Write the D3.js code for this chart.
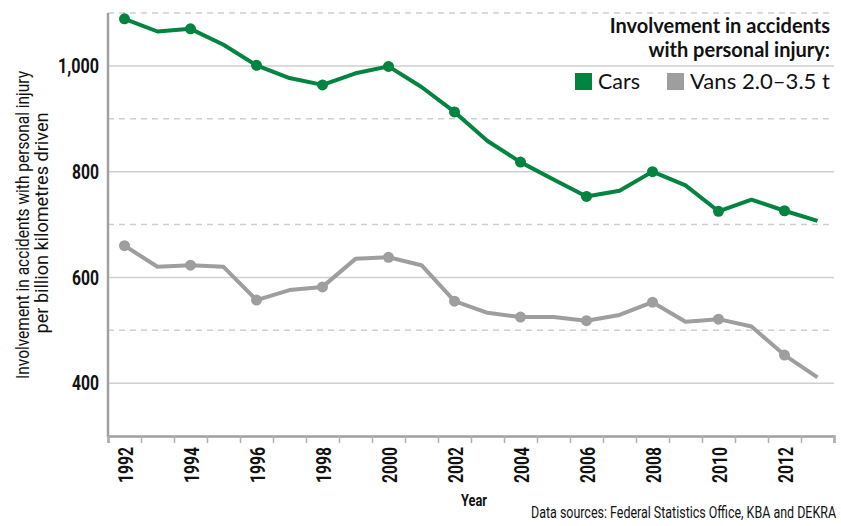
<!DOCTYPE html>
<html>
<head>
<meta charset="utf-8">
<script src="https://cdn.jsdelivr.net/npm/d3@7"></script>
<style>
  body { margin: 0; background: #fff; }
  .narrow { font-family: Roboto, "DejaVu Sans", sans-serif; }
  .grid line { stroke: #cfcfcf; stroke-width: 1.5; }
  .grid .dash { stroke-dasharray: 6 5; }
</style>
</head>
<body>
<div id="chart"></div>
<script>
var width = 841, height = 526;

// données
var years = d3.range(1992, 2014);
var cars = [1089, 1065, 1070, 1040, 1001, 977, 964, 986, 999, 960, 913, 858,
            818, 785, 753, 764, 800, 774, 725, 747, 726, 707];
var vans = [660, 620, 623, 620, 557, 576, 582, 635, 638, 623, 555, 533,
            525, 525, 518, 529, 553, 516, 521, 507, 453, 411];
var yTicks = [400, 600, 800, 1000];
var yDashed = [500, 700, 900, 1100];
var xLabels = [1992, 1994, 1996, 1998, 2000, 2002, 2004, 2006, 2008, 2010, 2012];

var green = "#00843f", grey = "#9e9e9e";

var svg = d3.select("#chart").append("svg")
    .attr("width", width)
    .attr("height", height);

var x = d3.scaleLinear().domain([1991.5, 2013.5]).range([108, 834]);
var y = d3.scaleLinear().domain([300, 1100]).range([436, 13]);

// texte étroit : on compresse à la largeur voulue
function squeeze(sel, len) {
  sel.attr("lengthAdjust", "spacingAndGlyphs").attr("textLength", len);
}

// grille
var grid = svg.append("g").attr("class", "grid");
grid.selectAll(".solid").data(yTicks).enter().append("line")
    .attr("class", "solid")
    .attr("x1", 108).attr("x2", 834)
    .attr("y1", function(d) { return y(d); })
    .attr("y2", function(d) { return y(d); });
grid.selectAll(".dash").data(yDashed).enter().append("line")
    .attr("class", "dash")
    .attr("x1", 108).attr("x2", 834)
    .attr("y1", function(d) { return y(d); })
    .attr("y2", function(d) { return y(d); });

// axe y
var yAxis = svg.append("g")
    .attr("class", "narrow")
    .attr("transform", "translate(108,0)")
    .call(d3.axisLeft(y).tickValues(yTicks).tickSize(0).tickPadding(9)
          .tickFormat(d3.format(",")));
yAxis.select(".domain").remove();
yAxis.selectAll("text").attr("font-size", 21).attr("fill", "#111")
    .attr("font-weight", "bold")
    .call(squeeze, function(d) { return d >= 1000 ? 41 : 27; });
svg.append("line")
    .attr("x1", 108).attr("x2", 108).attr("y1", 13).attr("y2", 437)
    .attr("stroke", "#a0a0a0").attr("stroke-width", 2.5);

// axe x
var xTickAxis = svg.append("g")
    .attr("transform", "translate(0,436)")
    .call(d3.axisBottom(x).tickValues(d3.range(1991.5, 2014, 1)).tickSize(7)
          .tickFormat(""));
xTickAxis.select(".domain").attr("stroke", "#a0a0a0").attr("stroke-width", 2.5);
xTickAxis.selectAll(".tick line").attr("stroke", "#b0b0b0").attr("stroke-width", 1.5);

var xAxis = svg.append("g")
    .attr("class", "narrow")
    .attr("transform", "translate(0,436)")
    .call(d3.axisBottom(x).tickValues(xLabels).tickSize(0).tickFormat(d3.format("d")));
xAxis.select(".domain").remove();
xAxis.selectAll("text")
    .attr("font-size", 21).attr("font-weight", "bold").attr("fill", "#111")
    .attr("transform", "rotate(-90)")
    .attr("x", -11).attr("y", 0).attr("dy", "0.36em")
    .style("text-anchor", "end")
    .call(squeeze, 36);

// lignes
var line = d3.line()
    .x(function(d) { return x(d.year); })
    .y(function(d) { return y(d.value); });

function series(values, color) {
  var data = years.map(function(yr, i) { return {year: yr, value: values[i]}; });
  svg.append("path")
      .datum(data)
      .attr("fill", "none")
      .attr("stroke", color)
      .attr("stroke-width", 4)
      .attr("stroke-linejoin", "round")
      .attr("d", line);
  svg.selectAll(null)
      .data(data.filter(function(d) { return d.year % 2 === 0; }))
      .enter().append("circle")
      .attr("cx", function(d) { return x(d.year); })
      .attr("cy", function(d) { return y(d.value); })
      .attr("r", 5.5)
      .attr("fill", color);
}
series(vans, grey);
series(cars, green);

// titre et légende
var title = svg.append("text")
    .attr("text-anchor", "end")
    .attr("font-family", "Lato, sans-serif")
    .attr("font-weight", "bold")
    .attr("font-size", 20)
    .attr("fill", "#111");
title.append("tspan").attr("x", 830).attr("y", 33).text("Involvement in accidents");
title.append("tspan").attr("x", 830).attr("y", 57).text("with personal injury:");

var legend = [
  {label: "Cars", color: green, x: 575, w: 42},
  {label: "Vans 2.0\u20133.5 t", color: grey, x: 667, w: 140}
];
var lg = svg.selectAll(".lg").data(legend).enter().append("g")
    .attr("transform", function(d) { return "translate(" + d.x + ",0)"; });
lg.append("rect").attr("x", 0).attr("y", 73).attr("width", 17).attr("height", 17)
    .attr("fill", function(d) { return d.color; });
lg.append("text").attr("x", 23).attr("y", 89)
    .attr("font-family", "Lato, sans-serif").attr("font-size", 21).attr("fill", "#111")
    .text(function(d) { return d.label; })
    .call(squeeze, function(d) { return d.w; });

// titres des axes
var yl = svg.append("text")
    .attr("class", "narrow")
    .attr("transform", "translate(0,225) rotate(-90)")
    .attr("text-anchor", "middle")
    .attr("font-size", 19)
    .attr("fill", "#111");
yl.append("tspan").attr("x", 0).attr("y", 29)
    .text("Involvement in accidents with personal injury").call(squeeze, 308);
yl.append("tspan").attr("x", 2).attr("y", 48)
    .text("per billion kilometres driven").call(squeeze, 221);

svg.append("text")
    .attr("class", "narrow")
    .attr("x", 474).attr("y", 506)
    .attr("text-anchor", "middle")
    .attr("font-size", 17).attr("font-weight", "bold").attr("fill", "#111")
    .text("Year")
    .call(squeeze, 26);

svg.append("text")
    .attr("class", "narrow")
    .attr("x", 836).attr("y", 518)
    .attr("text-anchor", "end")
    .attr("font-size", 16).attr("fill", "#111")
    .text("Data sources: Federal Statistics Office, KBA and DEKRA")
    .call(squeeze, 305);
</script>
</body>
</html>
